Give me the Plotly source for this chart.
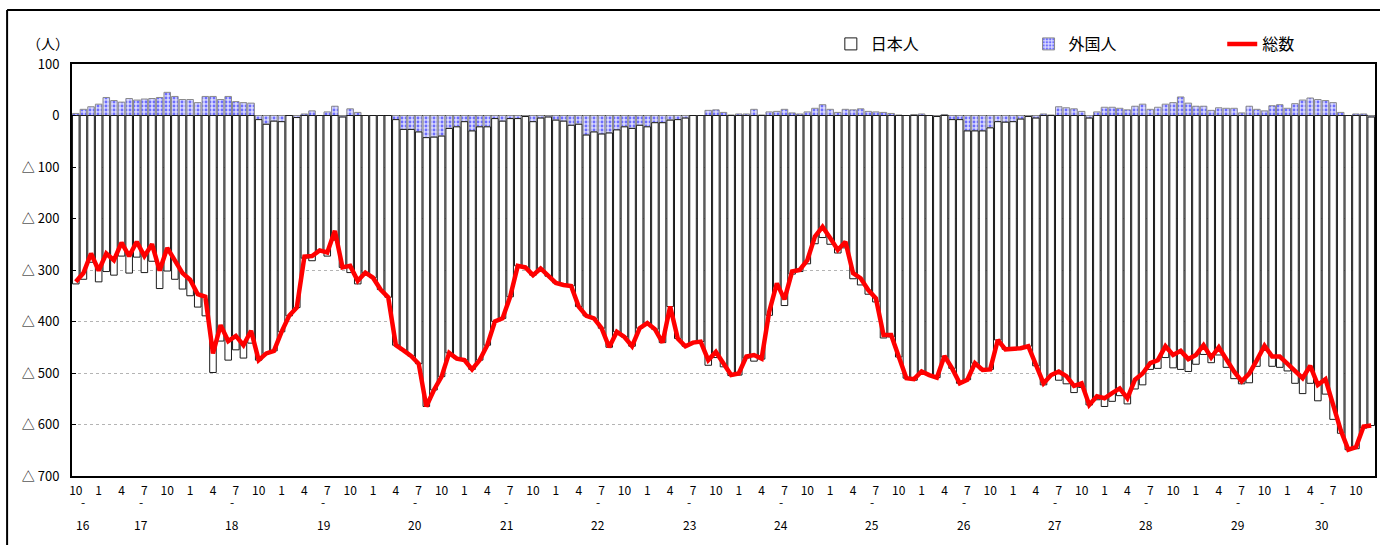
import plotly.graph_objects as go

# ---- data (monthly, Heisei 16 Oct .. Heisei 30 Dec) ----
start_year = 16
start_month = 10

total = [-323, -306, -268, -301, -268, -281, -247, -273, -245, -273, -250, -301,
         -257, -281, -306, -319, -347, -352, -462, -407, -438, -428, -446, -418,
         -475, -462, -457, -420, -389, -373, -274, -273, -262, -266, -224, -295,
         -292, -321, -305, -315, -338, -353, -446, -456, -467, -482, -565, -533,
         -507, -461, -472, -475, -493, -475, -446, -400, -394, -352, -292, -295,
         -310, -297, -312, -325, -329, -331, -371, -389, -394, -413, -450, -420,
         -430, -448, -413, -403, -415, -441, -371, -433, -448, -441, -439, -475,
         -459, -482, -504, -501, -468, -465, -472, -381, -326, -357, -303, -300,
         -281, -235, -216, -238, -261, -245, -306, -316, -339, -355, -426, -426,
         -468, -510, -512, -497, -504, -509, -467, -491, -520, -513, -481, -494,
         -493, -436, -454, -454, -452, -448, -486, -520, -504, -497, -506, -525,
         -520, -562, -545, -549, -539, -530, -549, -513, -501, -481, -475, -448,
         -465, -457, -473, -465, -446, -470, -450, -475, -497, -516, -501, -475,
         -447, -468, -468, -482, -497, -510, -486, -523, -512, -565, -611, -649,
         -644, -604, -602]

foreign = [4, 12, 17, 22, 35, 29, 26, 33, 30, 32, 33, 35,
           45, 37, 31, 31, 25, 37, 37, 31, 37, 27, 25, 24,
           -8, -17, -11, -12, 0, -4, 3, 9, 0, 7, 18, -3,
           13, 6, 0, 0, 0, 0, -8, -27, -27, -32, -43, -42,
           -40, -25, -22, -12, -30, -22, -22, -6, -11, -6, -6, -2,
           -12, -5, -3, -9, -11, -19, -17, -38, -32, -36, -34, -28,
           -22, -25, -19, -22, -14, -14, -9, -8, -5, 0, 0, 10,
           11, 6, 1, 3, 3, 12, 1, 7, 8, 12, 5, 3,
           7, 14, 21, 12, 6, 12, 11, 13, 8, 7, 6, 4,
           1, 0, 2, 3, 0, -2, 2, -8, -8, -30, -30, -30,
           -24, -12, -13, -12, -7, -2, -5, 3, 1, 17, 15, 13,
           8, -5, 7, 16, 16, 14, 11, 18, 22, 12, 16, 22,
           25, 36, 24, 18, 18, 10, 15, 14, 14, 5, 18, 12,
           9, 19, 21, 14, 23, 30, 34, 31, 29, 25, 6, 0,
           3, 3, -3]

japanese = [-327, -318, -285, -323, -303, -310, -273, -306, -275, -305, -283, -336,
            -302, -318, -337, -350, -372, -389, -499, -438, -475, -455, -471, -442,
            -467, -445, -446, -408, -389, -369, -277, -282, -262, -273, -242, -292,
            -305, -327, -305, -315, -338, -353, -438, -429, -440, -450, -522, -491,
            -467, -436, -450, -463, -463, -453, -424, -394, -383, -346, -286, -293,
            -298, -292, -309, -316, -318, -312, -354, -351, -362, -377, -416, -392,
            -408, -423, -394, -381, -401, -427, -362, -425, -443, -441, -439, -485,
            -470, -488, -505, -504, -471, -477, -473, -388, -334, -369, -308, -303,
            -288, -249, -237, -250, -267, -257, -317, -329, -347, -362, -432, -430,
            -469, -510, -514, -500, -504, -507, -469, -483, -512, -483, -451, -464,
            -469, -424, -441, -442, -445, -446, -481, -523, -505, -514, -521, -538,
            -528, -557, -552, -565, -555, -544, -560, -531, -523, -493, -491, -470,
            -490, -493, -497, -483, -464, -480, -465, -489, -511, -521, -519, -487,
            -456, -487, -489, -496, -520, -540, -520, -554, -541, -590, -617, -649,
            -647, -607, -599]

y_tick_vals = [100, 0, -100, -200, -300, -400, -500, -600, -700]
y_tick_text = ["100", "0", "△ 100", "△ 200", "△ 300", "△ 400", "△ 500", "△ 600", "△ 700"]
tick_months = [1, 4, 7, 10]

# ---- derived categories ----
n = len(total)
years, months = [], []
yy, mm = start_year, start_month
for _ in range(n):
    years.append(yy)
    months.append(mm)
    mm += 1
    if mm > 12:
        mm = 1
        yy += 1
xs = list(range(n))
tickvals = [i for i in xs if months[i] in tick_months]
ticktext = [str(months[i]) for i in tickvals]
last_tick = max(tickvals)

FONT = "Noto Sans CJK JP, Noto Sans, sans-serif"

fig = go.Figure()
fig.add_trace(go.Bar(
    x=xs, y=foreign, name="外国人", legend="legend2",
    marker=dict(color="#dadaff",
                line=dict(color="#8a8a8a", width=1),
                pattern=dict(shape=".", fgcolor="#0000ff", fillmode="overlay",
                             size=4, solidity=0.4)),
))
fig.add_trace(go.Bar(
    x=xs, y=japanese, name="日本人", legend="legend",
    marker=dict(color="#ffffff", line=dict(color="#1a1a1a", width=1)),
))
fig.add_trace(go.Scatter(
    x=xs, y=total, name="総数", legend="legend3", mode="lines",
    line=dict(color="#ff0000", width=4.5),
))

# year labels row
annotations = []
for yv in sorted(set(years)):
    idx = [i for i in xs if years[i] == yv and i <= last_tick]
    if not idx:
        continue
    cx = sum(idx) / len(idx)
    annotations.append(dict(x=cx, y=-0.087, xref="x", yref="paper", text="-",
                            showarrow=False, font=dict(size=12, color="#000", family=FONT)))
    annotations.append(dict(x=cx, y=-0.143, xref="x", yref="paper", text=str(yv),
                            showarrow=False, font=dict(size=12, color="#000", family=FONT)))
annotations.append(dict(x=-0.0184, y=(476 - 43) / 412, xref="paper", yref="paper", text="（人）",
                        showarrow=False, xanchor="center", yanchor="middle",
                        font=dict(size=14, color="#000", family=FONT)))

leg_common = dict(orientation="h", yanchor="middle", xanchor="left",
                  bgcolor="rgba(0,0,0,0)", font=dict(size=16, color="#000", family=FONT))
leg_y = (476 - 44) / 412

fig.update_layout(
    width=1380, height=545,
    margin=dict(l=72, r=3, t=64, b=69),
    paper_bgcolor="white", plot_bgcolor="white",
    barmode="relative", bargap=0.14,
    showlegend=True,
    legend=dict(x=(832 - 72) / 1305, y=leg_y, **leg_common),
    legend2=dict(x=(1030 - 72) / 1305, y=leg_y, **leg_common),
    legend3=dict(x=(1224 - 72) / 1305, y=leg_y, **leg_common),
    xaxis=dict(range=[-0.5, n - 0.5], tickvals=tickvals, ticktext=ticktext,
               showgrid=False, zeroline=False, showline=True, linecolor="#000",
               linewidth=2, mirror=True, ticks="", ticklabelstandoff=3,
               tickfont=dict(size=12, color="#000", family=FONT)),
    yaxis=dict(range=[-700, 100], tickvals=y_tick_vals, ticktext=y_tick_text,
               showgrid=True, gridcolor="#b4b4b4", griddash="dot", gridwidth=1,
               zeroline=True, zerolinecolor="#000", zerolinewidth=1,
               showline=True, linecolor="#000", linewidth=2, mirror=True,
               ticks="inside", ticklen=4, tickcolor="#000", ticklabelstandoff=8,
               tickfont=dict(size=13, color="#000", family=FONT)),
    annotations=annotations,
    shapes=[
        dict(type="line", xref="paper", yref="paper", x0=(7 - 72) / 1305, x1=1.05,
             y0=(476 - 10) / 412, y1=(476 - 10) / 412, line=dict(color="#000", width=2)),
        dict(type="line", xref="paper", yref="paper", x0=(7 - 72) / 1305, x1=(7 - 72) / 1305,
             y0=(476 - 10) / 412, y1=-0.3, line=dict(color="#000", width=2)),
    ],
)

# remove the browser's default body margin so the figure sits at the page origin
fig.write_html("out.html", config={"displayModeBar": False},
               post_script="document.body.style.margin='0';")
